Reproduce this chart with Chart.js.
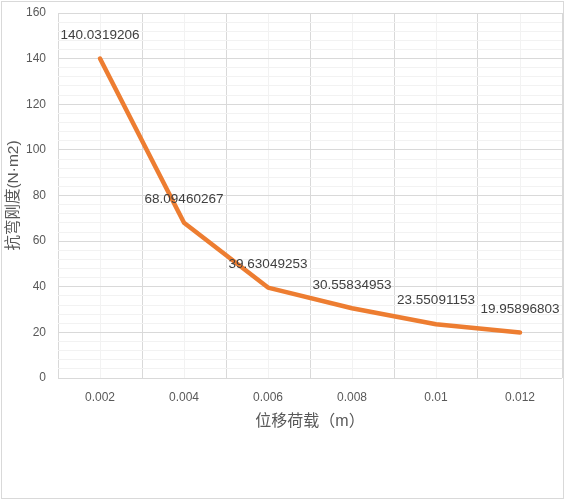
<!DOCTYPE html>
<html>
<head>
<meta charset="utf-8">
<script src="https://cdn.jsdelivr.net/npm/chart.js@4"></script>
<style>
html,body{margin:0;padding:0;background:#fff;}
#wrap{width:566px;height:501px;position:relative;}
</style>
</head>
<body>
<div id="wrap"><canvas id="c" width="566" height="501"></canvas></div>
<script>
// ---- data ----
const categories = ['0.002', '0.004', '0.006', '0.008', '0.01', '0.012'];
const stiffness = [140.0319206, 68.09460267, 39.63049253, 30.55834953, 23.55091153, 19.95896803];
const yTickValues = [0, 20, 40, 60, 80, 100, 120, 140, 160];
const xTitle = '位移荷载（m）';
const yTitle = '抗弯刚度(N·m2)';

const xVals = categories.map(parseFloat);
const half = (xVals[1] - xVals[0]) / 2;
const r6 = v => Math.round(v * 1e6) / 1e6;

// x grid: category boundaries (major) and category centres (minor)
const xGrid = [];
xVals.forEach(v => { xGrid.push({v: r6(v - half), major: true}); xGrid.push({v: r6(v), major: false}); });
xGrid.push({v: r6(xVals[xVals.length - 1] + half), major: true});

// y grid: major at labelled ticks, 4 minor between
const yGrid = [];
for (let i = 0; i < yTickValues.length; i++) {
  yGrid.push({v: yTickValues[i], major: true});
  if (i < yTickValues.length - 1) {
    const step = (yTickValues[i + 1] - yTickValues[i]) / 5;
    for (let k = 1; k < 5; k++) yGrid.push({v: yTickValues[i] + step * k, major: false});
  }
}

const MAJOR = '#d9d9d9', MINOR = '#f2f2f2';

const frame = {
  id: 'frame',
  beforeDraw(chart) {
    const ctx = chart.ctx;
    ctx.save();
    ctx.fillStyle = '#ffffff';
    ctx.fillRect(0, 0, chart.width, chart.height);
    ctx.strokeStyle = '#d9d9d9';
    ctx.lineWidth = 1;
    ctx.strokeRect(1.5, 1.5, 562, 497);
    ctx.restore();
  }
};

const dataLabels = {
  id: 'dataLabels',
  afterDatasetsDraw(chart) {
    const ctx = chart.ctx;
    const meta = chart.getDatasetMeta(0);
    ctx.save();
    ctx.font = '13.5px "Liberation Sans", Arial, sans-serif';
    ctx.fillStyle = '#404040';
    ctx.textAlign = 'center';
    ctx.textBaseline = 'middle';
    meta.data.forEach((pt, i) => {
      ctx.fillText(String(stiffness[i]), pt.x, pt.y - 23.5);
    });
    ctx.restore();
  }
};

new Chart(document.getElementById('c'), {
  type: 'line',
  data: {
    datasets: [{
      data: xVals.map((x, i) => ({x: x, y: stiffness[i]})),
      borderColor: '#ED7D31',
      backgroundColor: '#ED7D31',
      borderWidth: 4.5,
      pointRadius: 0,
      tension: 0,
      borderCapStyle: 'round',
      borderJoinStyle: 'round',
      fill: false
    }]
  },
  options: {
    responsive: false,
    animation: false,
    events: [],
    layout: {padding: {top: 13, right: 4, bottom: 63, left: 0}},
    plugins: {legend: {display: false}, tooltip: {enabled: false}},
    scales: {
      x: {
        type: 'linear',
        min: xGrid[0].v,
        max: xGrid[xGrid.length - 1].v,
        afterBuildTicks: s => { s.ticks = xGrid.map(g => ({value: g.v})); },
        afterFit: s => { s.height = 60; s.paddingLeft = 0; s.paddingRight = 0; },
        border: {display: false},
        grid: {
          drawTicks: false,
          color: c => (xGrid[c.index] && xGrid[c.index].major) ? MAJOR : MINOR,
          lineWidth: 1
        },
        ticks: {
          autoSkip: false,
          maxRotation: 0,
          padding: 12,
          color: '#595959',
          font: {family: '"Liberation Sans", Arial, sans-serif', size: 12},
          callback: function(v, i) {
            const idx = xVals.findIndex(x => Math.abs(x - v) < 1e-9);
            return idx >= 0 ? categories[idx] : '';
          }
        },
        title: {
          display: true,
          text: xTitle,
          color: '#595959',
          font: {family: '"Liberation Sans", "Noto Sans CJK SC", sans-serif', size: 16, weight: 'normal'},
          padding: {top: 0, bottom: 7}
        }
      },
      y: {
        type: 'linear',
        min: yTickValues[0],
        max: yTickValues[yTickValues.length - 1],
        afterBuildTicks: s => { s.ticks = yGrid.map(g => ({value: g.v})); },
        afterFit: s => { s.width = 58; s.paddingTop = 0; s.paddingBottom = 0; },
        border: {display: false},
        grid: {
          drawTicks: false,
          color: c => (yGrid[c.index] && yGrid[c.index].major) ? MAJOR : MINOR,
          lineWidth: 1
        },
        ticks: {
          autoSkip: false,
          padding: 12,
          color: '#595959',
          font: {family: '"Liberation Sans", Arial, sans-serif', size: 12},
          callback: function(v) { return yTickValues.includes(v) ? String(v) : ''; }
        },
        title: {
          display: true,
          text: yTitle,
          color: '#595959',
          font: {family: '"Liberation Sans", "Noto Sans CJK SC", sans-serif', size: 15.5, weight: 'normal'},
          padding: {top: 4, bottom: 0}
        }
      }
    }
  },
  plugins: [frame, dataLabels]
});
</script>
</body>
</html>
